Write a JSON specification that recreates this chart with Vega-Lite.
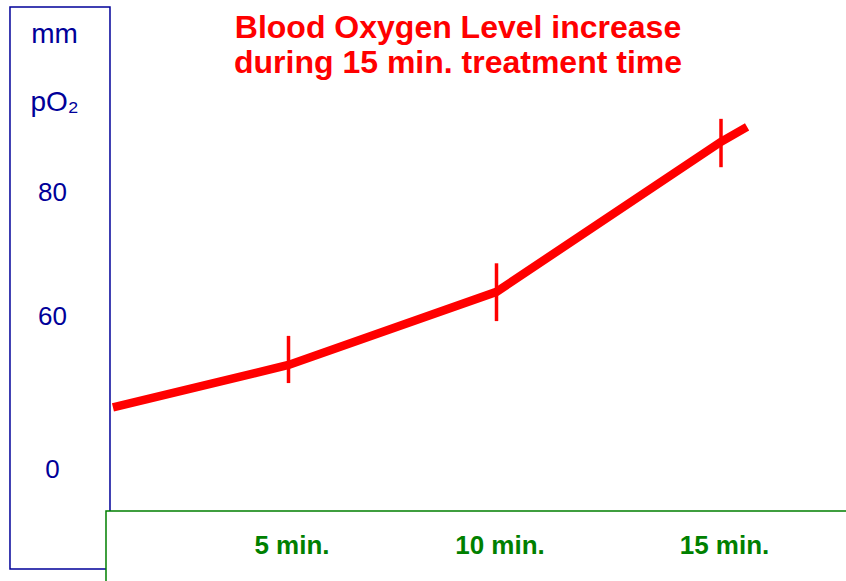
{
  "$schema": "https://vega.github.io/schema/vega-lite/v6.json",
  "width": 846,
  "height": 581,
  "autosize": {"type": "none"},
  "padding": 0,
  "background": "white",
  "config": {"view": {"stroke": null}, "font": "Liberation Sans"},
  "title": {
    "text": ["Blood Oxygen Level increase", "during 15 min. treatment time"],
    "anchor": "middle",
    "color": "#ff0000",
    "font": "Liberation Sans",
    "fontSize": 32,
    "fontWeight": "bold",
    "lineHeight": 35,
    "baseline": "top",
    "offset": 0,
    "dx": 35,
    "dy": 80
  },
  "datasets": {
    "series": [
      {"minute": 0.78, "po2": 24.2},
      {"minute": 5, "po2": 40.8},
      {"minute": 10, "po2": 63.9},
      {"minute": 15, "po2": 88.1},
      {"minute": 15.58, "po2": 90.5}
    ],
    "errors": [
      {"minute": 5, "lo": 33.7, "hi": 52.2},
      {"minute": 10, "lo": 58.0, "hi": 68.5},
      {"minute": 15, "lo": 84.0, "hi": 91.8}
    ]
  },
  "layer": [
    {
      "data": {"values": [{}]},
      "mark": {"type": "rect", "fillOpacity": 0, "stroke": "#000099", "strokeWidth": 1.5},
      "encoding": {
        "x": {"datum": -1.695, "type": "quantitative"},
        "x2": {"datum": 0.709},
        "y": {"datum": 109.84, "type": "quantitative"},
        "y2": {"datum": -39.2}
      }
    },
    {
      "data": {"values": [{}]},
      "mark": {"type": "rect", "fill": "white", "stroke": "#007f00", "strokeWidth": 1.5},
      "encoding": {
        "x": {"datum": 0.613, "type": "quantitative"},
        "x2": {"datum": 19},
        "y": {"datum": -16.47, "type": "quantitative"},
        "y2": {"datum": -50}
      }
    },
    {
      "data": {"name": "errors"},
      "mark": {"type": "rule", "color": "#ff0000", "strokeWidth": 3.5},
      "encoding": {
        "x": {"field": "minute", "type": "quantitative"},
        "y": {"field": "lo", "type": "quantitative"},
        "y2": {"field": "hi"}
      }
    },
    {
      "data": {"name": "series"},
      "mark": {"type": "line", "color": "#ff0000", "strokeWidth": 8.5},
      "encoding": {
        "x": {
          "field": "minute",
          "type": "quantitative",
          "scale": {"type": "linear", "domain": [-1.935, 5, 10, 15, 17.78], "range": [0, 288.5, 496.5, 721, 846], "zero": false, "nice": false},
          "axis": {
            "orient": "bottom",
            "offset": -70,
            "values": [5, 10, 15],
            "labelExpr": "datum.value + ' min.'",
            "domain": false,
            "ticks": false,
            "grid": false,
            "labelBaseline": "alphabetic",
            "labelPadding": 42,
            "labelFont": "Liberation Sans",
            "labelFontSize": 26,
            "labelFontWeight": "bold",
            "labelColor": "#008000",
            "labelOffset": 3,
            "labelFlush": false,
            "labelOverlap": false,
            "title": null,
            "zindex": 2
          }
        },
        "y": {
          "field": "po2",
          "type": "quantitative",
          "scale": {"type": "linear", "domain": [-43.92, 0, 60, 80, 110.97], "range": [581, 469, 316, 192, 0], "zero": false, "nice": false},
          "axis": {
            "orient": "left",
            "offset": -110,
            "values": [0, 60, 80],
            "domain": false,
            "ticks": false,
            "grid": false,
            "labelAlign": "center",
            "labelBaseline": "middle",
            "labelPadding": 58,
            "labelFont": "Liberation Sans",
            "labelFontSize": 26,
            "labelColor": "#000099",
            "labelFlush": false,
            "labelOverlap": false,
            "title": ["mm", "pO₂"],
            "titleAngle": 0,
            "titleAlign": "center",
            "titleBaseline": "alphabetic",
            "titleX": -56,
            "titleY": 42,
            "titleLineHeight": 68,
            "titleFont": "Liberation Sans",
            "titleFontSize": 28,
            "titleFontWeight": "normal",
            "titleColor": "#000099",
            "zindex": 2
          }
        }
      }
    }
  ]
}
